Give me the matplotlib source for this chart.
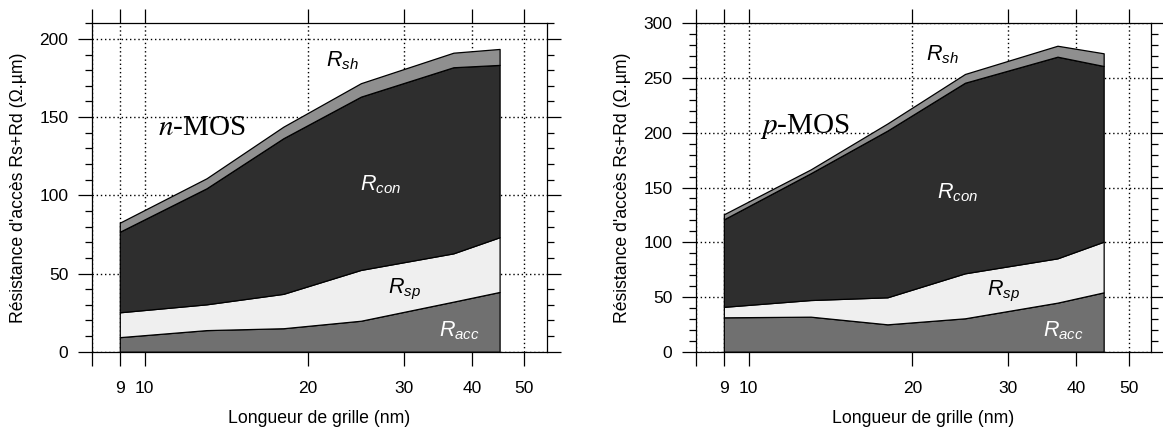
import matplotlib.pyplot as plt
from matplotlib.ticker import FixedLocator, FixedFormatter, MultipleLocator, NullLocator

plt.rcParams['font.family'] = ['Liberation Sans', 'DejaVu Sans']
plt.rcParams['mathtext.fontset'] = 'custom'
plt.rcParams['mathtext.it'] = 'Liberation Sans:italic'
plt.rcParams['mathtext.rm'] = 'Liberation Sans'

# gate lengths (nm)
gate_lengths = [9, 13, 18, 25, 37, 45]

# n-MOS contributions (Ohm.um), bottom to top
nmos_acc = [9.3, 13.8, 15.0, 19.8, 32.0, 38.2]
nmos_sp = [15.9, 16.5, 22.0, 32.5, 30.9, 35.0]
nmos_con = [51.5, 74.2, 99.5, 110.8, 119.0, 110.2]
nmos_sh = [5.8, 6.4, 7.4, 8.6, 9.3, 10.2]

# p-MOS contributions (Ohm.um), bottom to top
pmos_acc = [31.4, 32.0, 25.0, 30.5, 44.8, 54.2]
pmos_sp = [9.6, 15.2, 24.7, 41.1, 40.5, 46.3]
pmos_con = [79.9, 115.8, 152.3, 174.1, 184.2, 160.5]
pmos_sh = [4.6, 3.5, 6.5, 8.0, 10.0, 11.6]

layer_names = [r'$R_{acc}$', r'$R_{sp}$', r'$R_{con}$', r'$R_{sh}$']
layer_colors = ['#707070', '#efefef', '#2e2e2e', '#8f8f8f']
name_colors = ['white', 'black', 'white', 'black']

x_ticks = [8, 9, 10, 20, 30, 40, 50]
x_tick_labels = ['', '9', '10', '20', '30', '40', '50']


def draw_panel(ax, layers, ymax, title, title_pos, name_pos):
  ax.stackplot(gate_lengths, *layers, colors=layer_colors,
               edgecolor='black', linewidth=0.9, zorder=2)

  ax.set_xscale('log')
  ax.set_xlim(8, 55)
  ax.set_ylim(0, ymax)
  ax.xaxis.set_major_locator(FixedLocator(x_ticks))
  ax.xaxis.set_major_formatter(FixedFormatter(x_tick_labels))
  ax.xaxis.set_minor_locator(NullLocator())
  ax.yaxis.set_major_locator(MultipleLocator(50))
  ax.yaxis.set_minor_locator(MultipleLocator(10))

  ax.tick_params(which='both', direction='out', top=True, right=True,
                 labeltop=False, labelright=False, width=0.9, labelsize=12.5)
  ax.tick_params(which='major', length=10)
  ax.tick_params(which='minor', length=5)
  ax.tick_params(axis='x', pad=11)
  ax.tick_params(axis='y', pad=7)

  ax.grid(True, which='major', color='black', linestyle=(0, (1, 2)), linewidth=1.0)
  ax.set_axisbelow(True)
  for spine in ax.spines.values():
    spine.set_linewidth(0.9)
    spine.set_zorder(3)

  ax.set_xlabel('Longueur de grille (nm)', fontsize=12.7, labelpad=10)
  ax.set_ylabel("Résistance d'accès Rs+Rd (Ω.µm)", fontsize=12.7, labelpad=9)

  ax.text(title_pos[0], title_pos[1], title, fontsize=21,
          family='Liberation Serif', math_fontfamily='stix',
          ha='left', va='baseline', zorder=4)

  for name, color, pos in zip(layer_names, name_colors, name_pos):
    ax.text(pos[0], pos[1], name, color=color, fontsize=15.5,
            ha='left', va='baseline', zorder=4)


fig = plt.figure(figsize=(11.63, 4.3), dpi=100)
ax_n = fig.add_axes([0.0791, 0.1821, 0.3912, 0.7637])
ax_p = fig.add_axes([0.5985, 0.1821, 0.3912, 0.7637])

draw_panel(ax_n, [nmos_acc, nmos_sp, nmos_con, nmos_sh], 210, r'$n$-MOS',
           (10.6, 138.5), [(34.8, 9.6), (28.0, 37.4), (24.9, 103.4), (21.6, 182.3)])
draw_panel(ax_p, [pmos_acc, pmos_sp, pmos_con, pmos_sh], 300, r'$p$-MOS',
           (10.5, 199.5), [(34.8, 13.7), (27.5, 51.8), (22.2, 140.0), (21.2, 266.5)])

plt.savefig('out.png', dpi=100)
